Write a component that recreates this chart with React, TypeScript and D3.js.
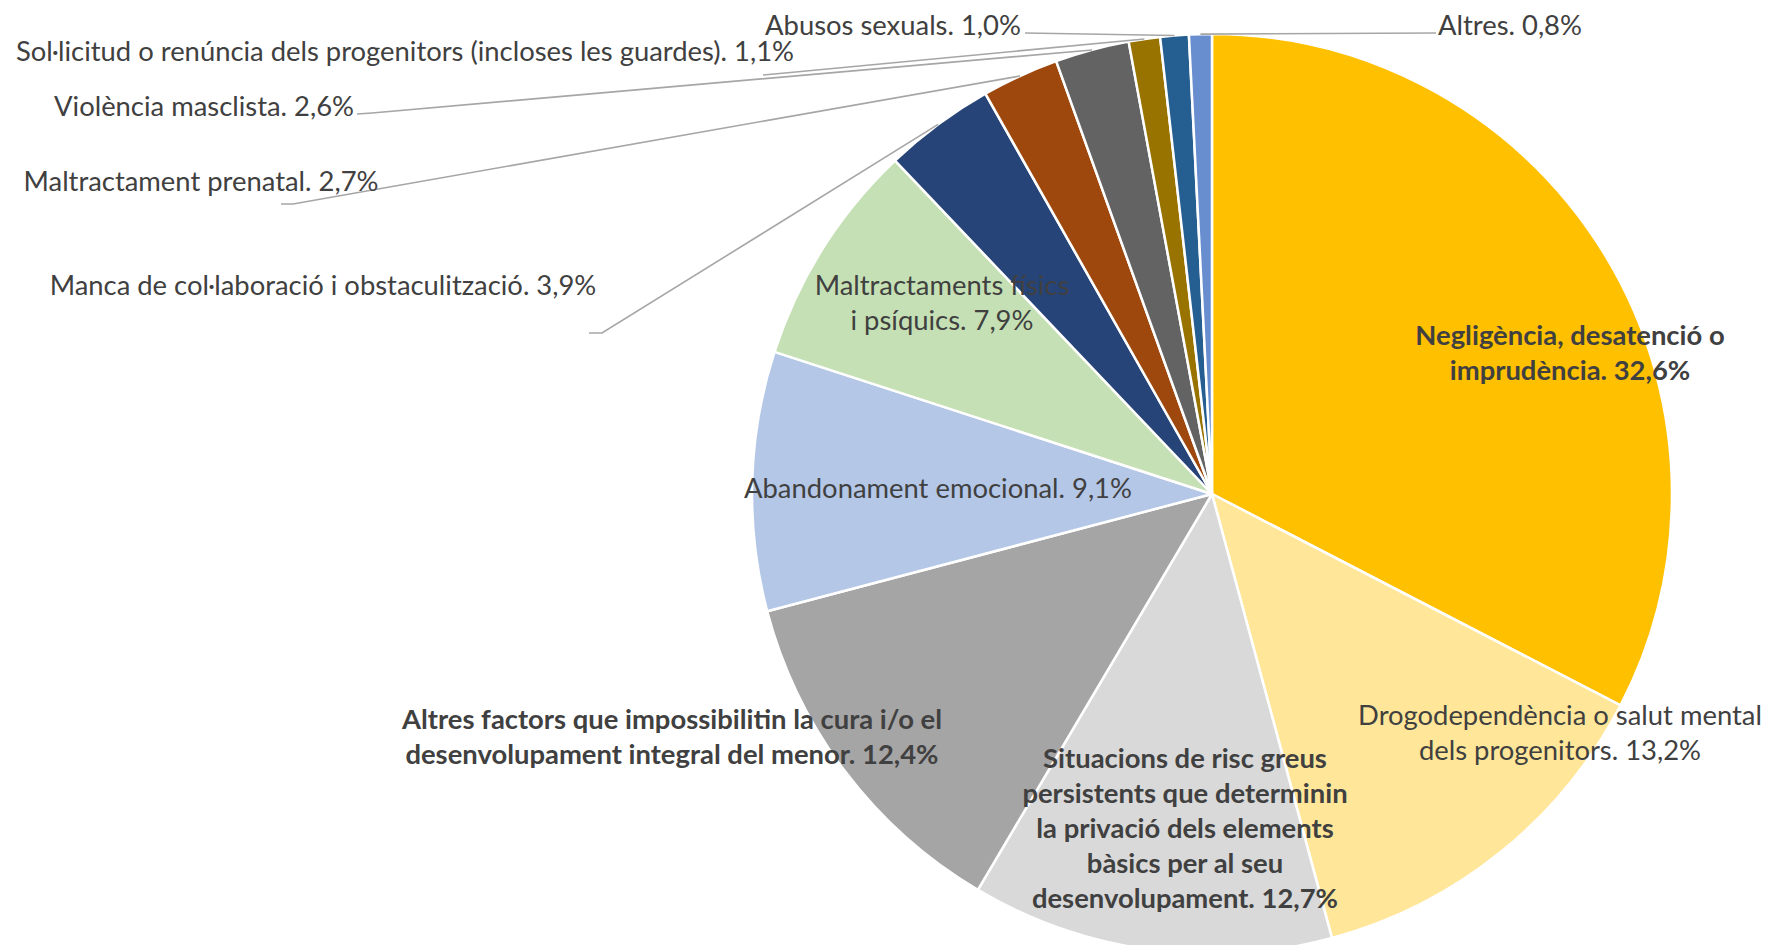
import React, { useMemo } from "react";
import * as d3 from "d3";

// categories in clockwise order from 12 o'clock
const categories = [
  "Negligència, desatenció o imprudència",
  "Drogodependència o salut mental dels progenitors",
  "Situacions de risc greus persistents que determinin la privació dels elements bàsics per al seu desenvolupament",
  "Altres factors que impossibilitin la cura i/o el desenvolupament integral del menor",
  "Abandonament emocional",
  "Maltractaments físics i psíquics",
  "Manca de col·laboració i obstaculització",
  "Maltractament prenatal",
  "Violència masclista",
  "Sol·licitud o renúncia dels progenitors (incloses les guardes)",
  "Abusos sexuals",
  "Altres",
];

const values = [32.6, 13.2, 12.7, 12.4, 9.1, 7.9, 3.9, 2.7, 2.6, 1.1, 1.0, 0.8];

const colors = [
  "#FFC000",
  "#FFE699",
  "#D9D9D9",
  "#A5A5A5",
  "#B4C7E7",
  "#C5E0B4",
  "#264478",
  "#9E480E",
  "#636363",
  "#997300",
  "#255E91",
  "#698ED0",
];

const boldLabels = [true, false, true, true, false, false, false, false, false, false, false, false];

const W = 1768;
const H = 945;
const CX = 1212;
const CY = 494;
const R = 460;
const FONT = "Lato, 'Open Sans', sans-serif";
const FONT_SIZE = 27.4;
const LINE_H = 35;

type Layout = {
  x: number;
  y: number;
  wrap?: number;
  leader?: [number, number][];
};

// where Excel put each data label (centre x, first line centre y)
const labelLayout: Layout[] = [
  { x: 1570, y: 334, wrap: 25 },
  { x: 1560, y: 714, wrap: 31 },
  { x: 1185, y: 757, wrap: 26 },
  { x: 672, y: 718, wrap: 48 },
  { x: 938, y: 487 },
  { x: 942, y: 284, wrap: 21 },
  { x: 323, y: 284, leader: [[589, 333], [602, 333]] },
  { x: 201, y: 180, leader: [[281, 204], [293, 204]] },
  { x: 204, y: 105, leader: [[357, 114], [372, 113]] },
  { x: 405, y: 50, leader: [[763, 75], [785, 73]] },
  { x: 893, y: 24, leader: [[1025, 33]] },
  { x: 1510, y: 24, leader: [[1436, 33]] },
];

const fmtPct = (v: number) => d3.format(".1f")(v).replace(".", ",") + "%";

function wrapText(text: string, max?: number) {
  if (!max) return [text];
  const words = text.split(" ");
  const lines: string[] = [];
  let cur = "";
  for (const w of words) {
    const next = cur ? cur + " " + w : w;
    if (next.length > max && cur) {
      lines.push(cur);
      cur = w;
    } else {
      cur = next;
    }
  }
  if (cur) lines.push(cur);
  return lines;
}

type Datum = { name: string; value: number; color: string; bold: boolean };

export default function App() {
  const data: Datum[] = categories.map((name, i) => ({
    name,
    value: values[i],
    color: colors[i],
    bold: boldLabels[i],
  }));

  const arcs = useMemo(
    () =>
      d3
        .pie<Datum>()
        .sort(null)
        .value((d) => d.value)(data),
    []
  );

  const arcGen = d3.arc<d3.PieArcDatum<Datum>>().innerRadius(0).outerRadius(R);
  const edgeGen = d3.arc<d3.PieArcDatum<Datum>>().innerRadius(R).outerRadius(R);
  const line = d3.line();

  return (
    <div style={{ position: "absolute", left: 0, top: 0, background: "white" }}>
      <svg width={W} height={H} style={{ display: "block" }} fontFamily={FONT}>
        <rect width={W} height={H} fill="white" />
        <g transform={`translate(${CX},${CY})`}>
          {arcs.map((a, i) => (
            <path
              key={i}
              d={arcGen(a) ?? ""}
              fill={a.data.color}
              stroke="white"
              strokeWidth={2.5}
              strokeLinejoin="round"
            />
          ))}
        </g>

        {/* leader lines for the small outside slices */}
        {arcs.map((a, i) => {
          const lay = labelLayout[i];
          if (!lay.leader) return null;
          const [ex, ey] = edgeGen.centroid(a);
          const pts: [number, number][] = [...lay.leader, [CX + ex, CY + ey]];
          return (
            <path
              key={`l${i}`}
              d={line(pts) ?? ""}
              fill="none"
              stroke="#A6A6A6"
              strokeWidth={1.6}
            />
          );
        })}

        {arcs.map((a, i) => {
          const lay = labelLayout[i];
          const lines = wrapText(`${a.data.name}. ${fmtPct(a.data.value)}`, lay.wrap);
          return (
            <text
              key={`t${i}`}
              textAnchor="middle"
              fontSize={FONT_SIZE}
              fontWeight={a.data.bold ? 700 : 400}
              fill="#404040"
            >
              {lines.map((ln, j) => (
                <tspan key={j} x={lay.x} y={lay.y + j * LINE_H} dominantBaseline="central">
                  {ln}
                </tspan>
              ))}
            </text>
          );
        })}
      </svg>
    </div>
  );
}
